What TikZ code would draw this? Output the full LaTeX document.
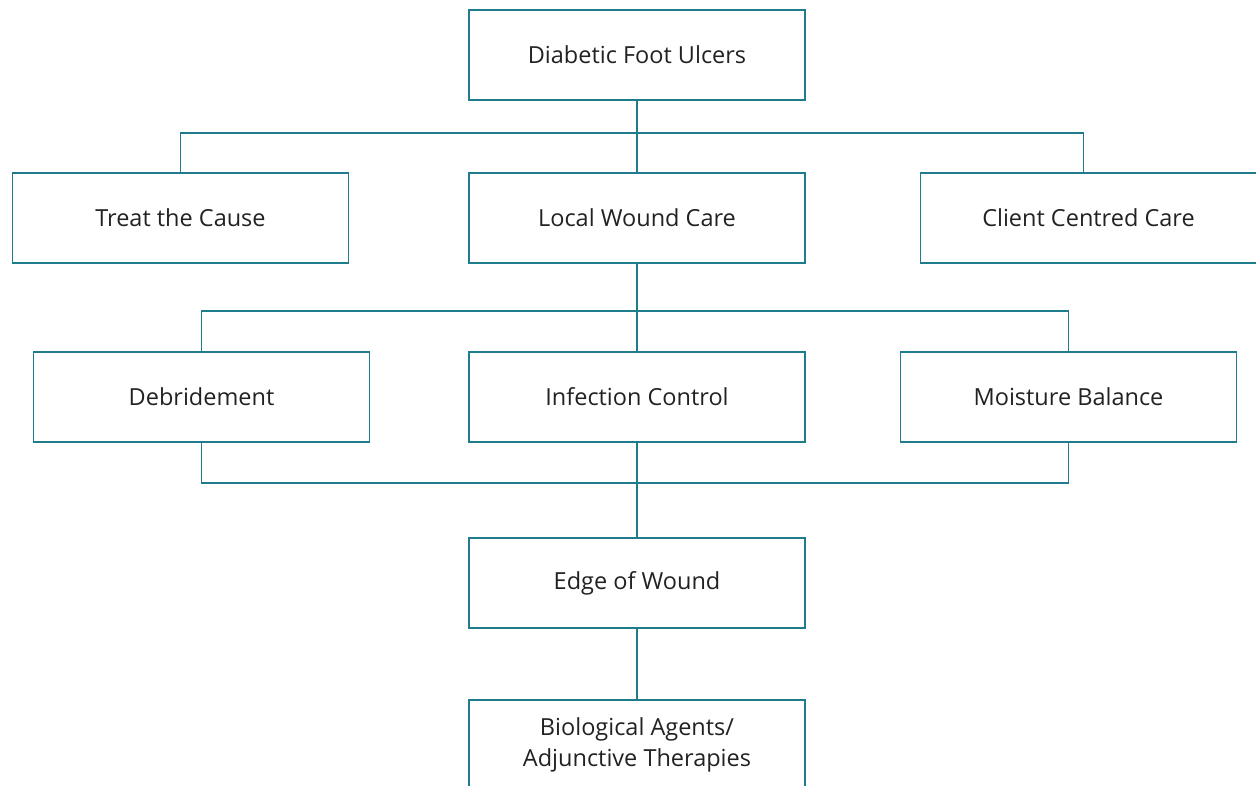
\documentclass[tikz,border=0pt]{standalone}
\usepackage{fontspec}
\setmainfont{Open Sans}
\usepackage{tikz}
\usetikzlibrary{positioning}
\definecolor{tealline}{HTML}{1F7C8C}
\definecolor{boxtext}{HTML}{222222}

\begin{document}
\begin{tikzpicture}[
    x=1pt, y=-1pt,
    box/.style={draw=tealline, line width=1.5pt, rectangle, minimum width=336pt, minimum height=90pt, text centered, align=center, text=boxtext, font=\fontsize{23.5}{31}\selectfont},
    link/.style={draw=tealline, line width=1.5pt}
]
    \useasboundingbox (0,0) rectangle (1256,786);
    \node[box] (dfu) at (637,55) {Diabetic Foot Ulcers};
    \node[box] (ttc) at (180.5,218) {Treat the Cause};
    \node[box] (lwc) at (637,218) {Local Wound Care};
    \node[box] (ccc) at (1088.5,218) {Client Centred Care};
    \node[box] (deb) at (201.5,397) {Debridement};
    \node[box] (ifc) at (637,397) {Infection Control};
    \node[box] (mob) at (1068.5,397) {Moisture Balance};
    \node[box] (eow) at (637,583) {Edge of Wound};
    \node[box] (bio) at (637,745) {Biological Agents/\\Adjunctive Therapies};

    \coordinate (busa) at (637,133);
    \coordinate (busb) at (637,311);
    \coordinate (busc) at (637,483);

    \draw[link] (dfu.south) -- (lwc.north);
    \draw[link] (ttc.north) |- (busa) -| ([xshift=-5pt]ccc.north);
    \draw[link] (lwc.south) -- (ifc.north);
    \draw[link] (deb.north) |- (busb) -| (mob.north);
    \draw[link] (ifc.south) -- (eow.north);
    \draw[link] (deb.south) |- (busc) -| (mob.south);
    \draw[link] (eow.south) -- (bio.north);
\end{tikzpicture}
\end{document}
